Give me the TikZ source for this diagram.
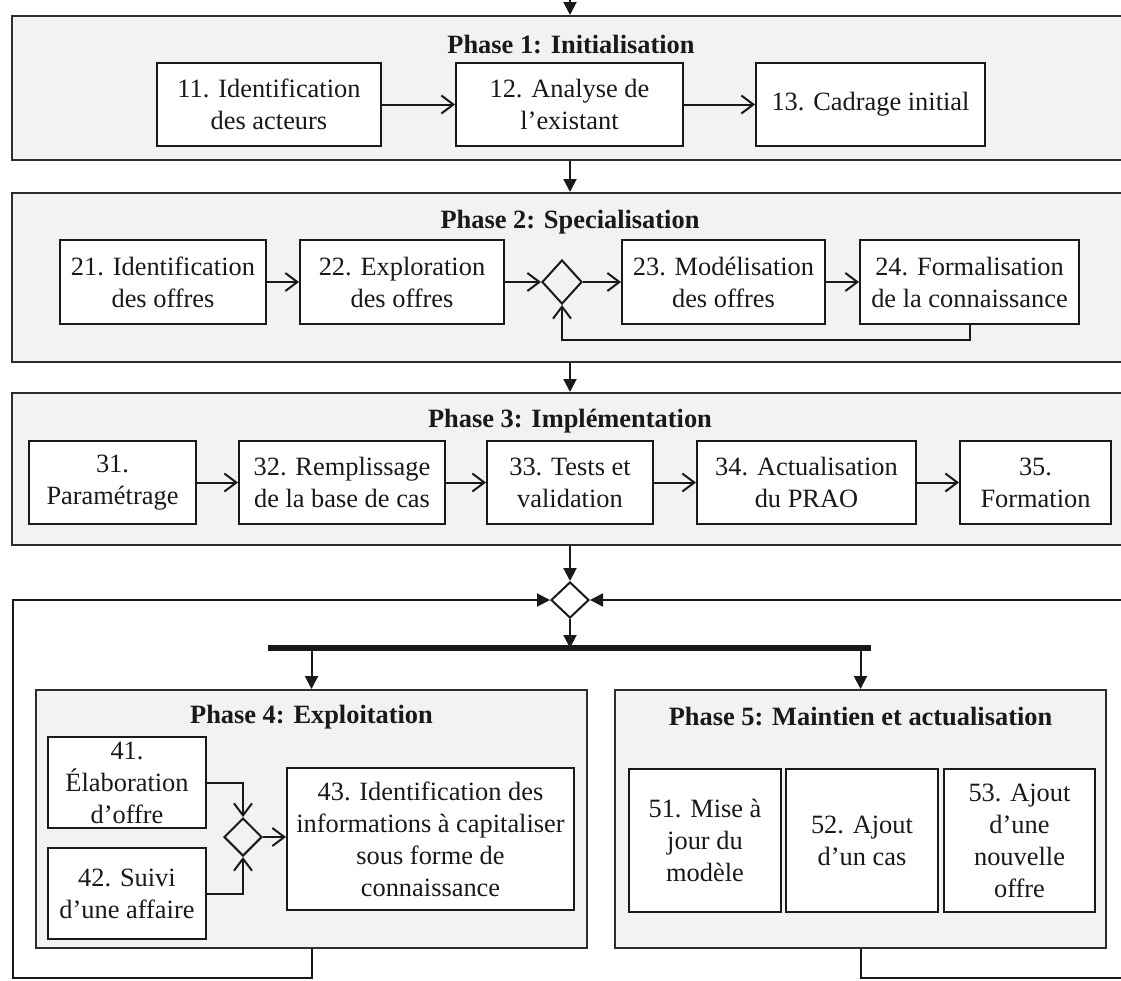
\documentclass[tikz,border=0pt]{standalone}
\usepackage{fontspec}
\setmainfont{Liberation Serif}
\usetikzlibrary{arrows.meta,shapes.geometric}
\definecolor{phasefill}{RGB}{243,241,243}
\definecolor{edge}{RGB}{45,45,45}
\definecolor{ink}{RGB}{25,25,25}
\begin{document}
\begin{tikzpicture}[x=1pt,y=-1pt,
  txt/.style={font=\fontsize{26.4}{32}\selectfont, text=ink},
  box/.style={txt, draw=ink, fill=white, line width=2pt, align=center, inner sep=0pt},
  phase/.style={draw=edge, fill=phasefill, line width=2pt, inner sep=0pt},
  title/.style={font=\bfseries\fontsize{26.4}{32}\selectfont, text=ink, inner sep=0pt},
  gate/.style={diamond, draw=ink, line width=2pt, inner sep=0pt},
  oarrow/.style={draw=ink, line width=2pt, -{Straight Barb[length=12pt,width=18pt]}},
  farrow/.style={draw=ink, line width=2pt, -{Triangle[length=13pt,width=13pt]}},
]
\useasboundingbox (0,0) rectangle (1121,980);
\clip (0,0) rectangle (1121,980);
\fill[white] (0,0) rectangle (1121,980);

% ---- phase containers
\node[phase, minimum width=1128pt, minimum height=144pt] (p1) at (576,88) {};
\node[phase, minimum width=1128pt, minimum height=169pt] (p2) at (576,277.5) {};
\node[phase, minimum width=1128pt, minimum height=152pt] (p3) at (576,469) {};
\node[phase, minimum width=551pt, minimum height=258pt] (p4) at (311.5,819) {};
\node[phase, minimum width=491pt, minimum height=258pt] (p5) at (860.5,819) {};

% ---- titles
\node[title] (t1) at (571,45) {Phase 1: Initialisation};
\node[title] (t2) at (570,222) {Phase 2: Specialisation};
\node[title] (t3) at (570,421) {Phase 3: Implémentation};
\node[title] (t4) at (311.5,717) {Phase 4: Exploitation};
\node[title] (t5) at (860.5,717) {Phase 5: Maintien et actualisation};

% ---- phase 1
\node[box, minimum width=224pt, minimum height=83pt] (n11) at (269,104.5) {11. Identification\\des acteurs};
\node[box, minimum width=227pt, minimum height=83pt] (n12) at (569.5,104.5) {12. Analyse de\\l’existant};
\node[box, minimum width=229pt, minimum height=83pt] (n13) at (870.5,104.5) {13. Cadrage initial};

% ---- phase 2
\node[box, minimum width=206pt, minimum height=84pt] (n21) at (163,282) {21. Identification\\des offres};
\node[box, minimum width=204pt, minimum height=84pt] (n22) at (402,282) {22. Exploration\\des offres};
\node[gate, minimum width=40pt, minimum height=44pt] (d1) at (562,282) {};
\node[box, minimum width=203pt, minimum height=84pt] (n23) at (723.5,282) {23. Modélisation\\des offres};
\node[box, minimum width=219pt, minimum height=84pt] (n24) at (969.5,282) {24. Formalisation\\de la connaissance};

% ---- phase 3
\node[box, minimum width=167pt, minimum height=83pt] (n31) at (112.5,482.5) {31.\\Paramétrage};
\node[box, minimum width=206pt, minimum height=83pt] (n32) at (342,482.5) {32. Remplissage\\de la base de cas};
\node[box, minimum width=166pt, minimum height=83pt] (n33) at (570,482.5) {33. Tests et\\validation};
\node[box, minimum width=219pt, minimum height=83pt] (n34) at (806.5,482.5) {34. Actualisation\\du PRAO};
\node[box, minimum width=151pt, minimum height=83pt] (n35) at (1035.5,482.5) {35.\\Formation};

% ---- merge / fork
\node[gate, minimum width=38pt, minimum height=36pt] (d2) at (570,600) {};
\coordinate (axis) at (570,0);
\coordinate (top) at (570,-10);
\coordinate (barL) at (268,648);
\coordinate (barR) at (871,648);

% ---- phase 4
\node[box, minimum width=158pt, minimum height=91pt] (n41) at (127,782.5) {41.\\Élaboration\\d’offre};
\node[box, minimum width=158pt, minimum height=91pt] (n42) at (127,893.5) {42. Suivi\\d’une affaire};
\node[gate, minimum width=38pt, minimum height=38pt] (d3) at (243,837) {};
\node[box, minimum width=287pt, minimum height=142pt] (n43) at (430.5,839) {43. Identification des\\informations à capitaliser\\sous forme de\\connaissance};

% ---- phase 5
\node[box, minimum width=152pt, minimum height=143pt] (n51) at (705,840.5) {51. Mise à\\jour du\\modèle};
\node[box, minimum width=152pt, minimum height=143pt] (n52) at (862,840.5) {52. Ajout\\d’un cas};
\node[box, minimum width=151pt, minimum height=143pt] (n53) at (1019.5,840.5) {53. Ajout\\d’une\\nouvelle\\offre};

% ---- connectors between phases
\draw[farrow] (top) -- (top |- p1.north);
\draw[farrow] (axis |- p1.south) -- (axis |- p2.north);
\draw[farrow] (axis |- p2.south) -- (axis |- p3.north);
\draw[farrow] (axis |- p3.south) -- (d2.north);
\draw[ink, line width=6pt] (barL) -- (barR);
\draw[farrow] (d2.south) -- (d2.south |- barL);
\draw[farrow] (p4.north |- barL) -- (p4.north);
\draw[farrow] (p5.north |- barL) -- (p5.north);

\coordinate (LL) at (13,978);
\coordinate (LU) at (13,600);
\coordinate (RL) at (1140,978);
\coordinate (RU) at (1140,600);
\draw[farrow] (p4.south) |- (LL) -- (LU) -- (d2.west);
\draw[farrow] (p5.south) |- (RL) -- (RU) -- (d2.east);

% ---- flows inside phases
\draw[oarrow] (n11.east) -- (n12.west);
\draw[oarrow] (n12.east) -- (n13.west);
\draw[oarrow] (n21.east) -- (n22.west);
\draw[oarrow] (n22.east) -- (d1.west);
\draw[oarrow] (d1.east) -- (n23.west);
\draw[oarrow] (n23.east) -- (n24.west);
\coordinate (loopy) at (0,340);
\draw[oarrow] (n24.south) -- (n24.south |- loopy) -| (d1.south);
\draw[oarrow] (n31.east) -- (n32.west);
\draw[oarrow] (n32.east) -- (n33.west);
\draw[oarrow] (n33.east) -- (n34.west);
\draw[oarrow] (n34.east) -- (n35.west);
\draw[oarrow] (n41.east) -| (d3.north);
\draw[oarrow] (n42.east) -| (d3.south);
\draw[oarrow] (d3.east) -- (d3.east -| n43.west);
\end{tikzpicture}
\end{document}
